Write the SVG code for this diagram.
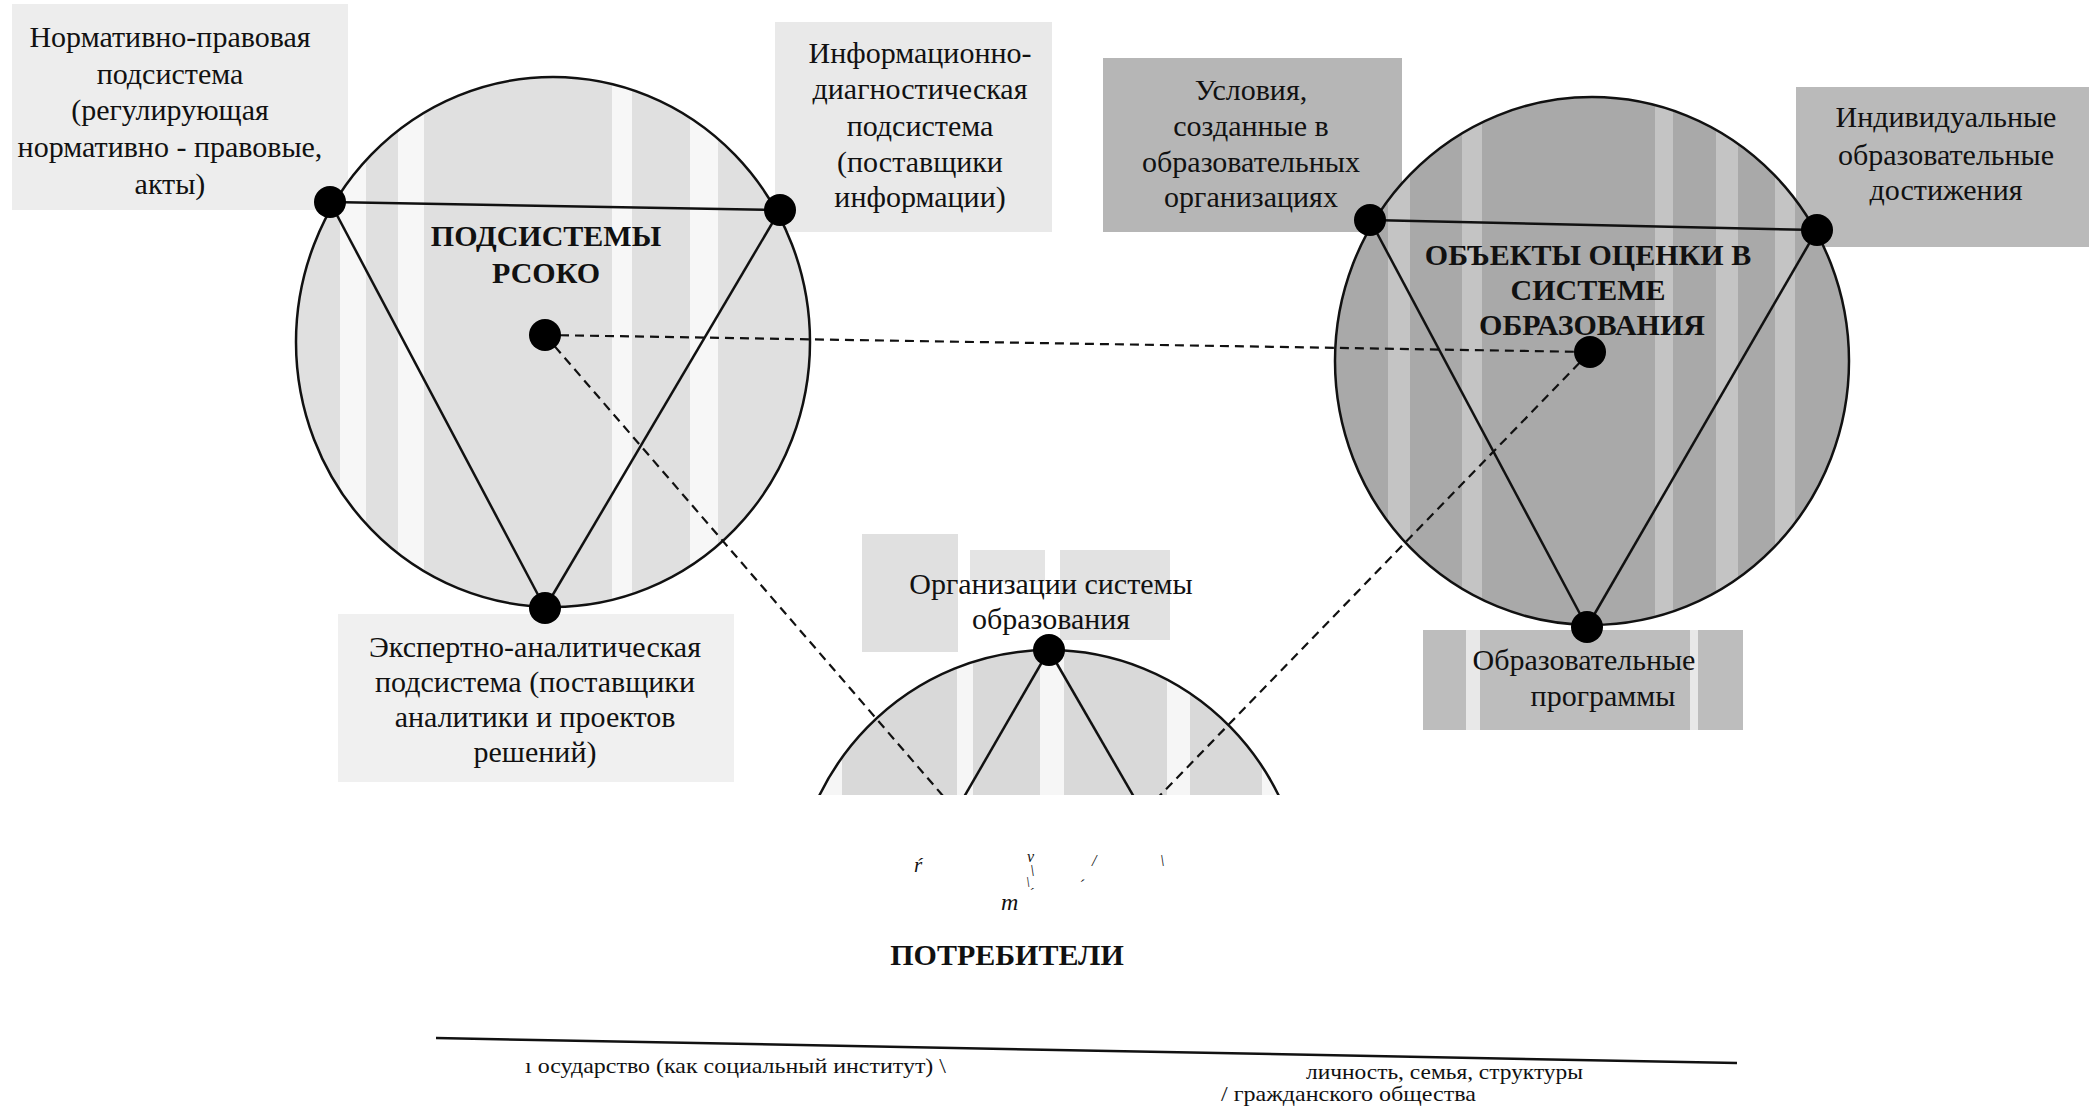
<svg xmlns="http://www.w3.org/2000/svg" width="2089" height="1114" viewBox="0 0 2089 1114">
<style>
.t{font-family:"Liberation Serif","Times New Roman",serif;font-size:30px;fill:#111;text-anchor:middle}
.b{font-family:"Liberation Serif","Times New Roman",serif;font-weight:bold;font-size:30px;fill:#111;text-anchor:middle}
.s{font-family:"Liberation Serif","Times New Roman",serif;font-size:21px;fill:#111}
.ring{stroke:#111;stroke-width:2.5}
.edge{stroke:#111;stroke-width:2.5;fill:none}
.dash{stroke:#111;stroke-width:2.2;stroke-dasharray:9 6;fill:none}
.dot{fill:#000}
</style>
<defs>
<clipPath id="cutBottom"><rect x="0" y="0" width="2089" height="795"/></clipPath>
<clipPath id="cL"><ellipse cx="553" cy="342" rx="257" ry="265"/></clipPath>
<clipPath id="cR"><ellipse cx="1592" cy="361" rx="257" ry="264"/></clipPath>
<clipPath id="cB"><ellipse cx="1049" cy="914" rx="257" ry="264"/></clipPath>
</defs>
<rect width="2089" height="1114" fill="#fff"/>

<!-- label backgrounds -->
<g id="backgrounds">
<rect x="12" y="4" width="336" height="206" fill="#ededed"/>
<rect x="775" y="22" width="277" height="210" fill="#e9e9e9"/>
<rect x="1103" y="58" width="299" height="174" fill="#b6b6b6"/>
<rect x="1796" y="87" width="293" height="160" fill="#bababa"/>
<rect x="338" y="614" width="396" height="168" fill="#f0f0f0"/>
<rect x="862" y="534" width="96" height="118" fill="#e0e0e0"/>
<rect x="970" y="550" width="75" height="32" fill="#e4e4e4"/>
<rect x="1060" y="550" width="110" height="90" fill="#e2e2e2"/>
<rect x="1423" y="630" width="320" height="100" fill="#bdbdbd"/>
<rect x="1466" y="630" width="14" height="100" fill="#e8e8e8"/>
<rect x="1690" y="630" width="8" height="100" fill="#e8e8e8"/>
</g>

<!-- consumers circle (cut off) -->
<g id="consumers-circle" clip-path="url(#cutBottom)">
<ellipse cx="1049" cy="914" rx="257" ry="264" fill="#d9d9d9"/>
<g clip-path="url(#cB)" fill="#f6f6f6">
<rect x="792" y="600" width="50" height="200"/>
<rect x="957" y="600" width="16" height="200"/>
<rect x="1040" y="600" width="24" height="200"/>
<rect x="1167" y="600" width="23" height="200"/>
<rect x="1262" y="600" width="40" height="200"/>
</g>
<ellipse cx="1049" cy="914" rx="257" ry="264" fill="none" class="ring"/>
<line x1="1049" y1="650" x2="820" y2="1046" class="edge"/>
<line x1="1049" y1="650" x2="1278" y2="1046" class="edge"/>
<circle cx="1049" cy="650" r="16" class="dot"/>
</g>

<!-- subsystems circle -->
<g id="subsystems-circle">
<ellipse cx="553" cy="342" rx="257" ry="265" fill="#e0e0e0"/>
<g clip-path="url(#cL)" fill="#f7f7f7">
<rect x="340" y="70" width="26" height="560"/>
<rect x="398" y="70" width="26" height="560"/>
<rect x="612" y="70" width="20" height="560"/>
<rect x="690" y="70" width="28" height="560"/>
</g>
<ellipse cx="553" cy="342" rx="257" ry="265" fill="none" class="ring"/>
<line x1="330" y1="202" x2="780" y2="210" class="edge"/>
<line x1="330" y1="202" x2="545" y2="608" class="edge"/>
<line x1="780" y1="210" x2="545" y2="608" class="edge"/>
<text class="b" x="546" y="246">ПОДСИСТЕМЫ</text>
<text class="b" x="546" y="283">РСОКО</text>
</g>

<!-- objects circle -->
<g id="objects-circle">
<ellipse cx="1592" cy="361" rx="257" ry="264" fill="#a9a9a9"/>
<g clip-path="url(#cR)" fill="#c4c4c4">
<rect x="1388" y="90" width="22" height="540"/>
<rect x="1462" y="90" width="20" height="540"/>
<rect x="1655" y="90" width="18" height="540"/>
<rect x="1716" y="90" width="22" height="540"/>
<rect x="1775" y="90" width="20" height="540"/>
</g>
<ellipse cx="1592" cy="361" rx="257" ry="264" fill="none" class="ring"/>
<line x1="1370" y1="220" x2="1817" y2="230" class="edge"/>
<line x1="1370" y1="220" x2="1587" y2="627" class="edge"/>
<line x1="1817" y1="230" x2="1587" y2="627" class="edge"/>
<text class="b" x="1588" y="265">ОБЪЕКТЫ ОЦЕНКИ В</text>
<text class="b" x="1588" y="300">СИСТЕМЕ</text>
<text class="b" x="1592" y="335">ОБРАЗОВАНИЯ</text>
</g>

<!-- connectors -->
<g id="connectors">
<line x1="545" y1="335" x2="1590" y2="352" class="dash"/>
<g clip-path="url(#cutBottom)">
<line x1="545" y1="335" x2="1045" y2="914" class="dash"/>
<line x1="1590" y1="352" x2="1045" y2="914" class="dash"/>
</g>
</g>

<!-- nodes -->
<g id="node-normative"><circle cx="330" cy="202" r="16" class="dot"/>
<text class="t"><tspan x="170" y="47">Нормативно-правовая</tspan><tspan x="170" y="84">подсистема</tspan><tspan x="170" y="120">(регулирующая</tspan><tspan x="170" y="157">нормативно - правовые,</tspan><tspan x="170" y="194">акты)</tspan></text></g>
<g id="node-info"><circle cx="780" cy="210" r="16" class="dot"/>
<text class="t"><tspan x="920" y="63">Информационно-</tspan><tspan x="920" y="99">диагностическая</tspan><tspan x="920" y="136">подсистема</tspan><tspan x="920" y="172">(поставщики</tspan><tspan x="920" y="207">информации)</tspan></text></g>
<g id="node-center-left"><circle cx="545" cy="335" r="16" class="dot"/></g>
<g id="node-expert"><circle cx="545" cy="608" r="16" class="dot"/>
<text class="t"><tspan x="535" y="657">Экспертно-аналитическая</tspan><tspan x="535" y="692">подсистема (поставщики</tspan><tspan x="535" y="727">аналитики и проектов</tspan><tspan x="535" y="762">решений)</tspan></text></g>
<g id="node-conditions"><circle cx="1370" cy="220" r="16" class="dot"/>
<text class="t"><tspan x="1251" y="100">Условия,</tspan><tspan x="1251" y="136">созданные в</tspan><tspan x="1251" y="172">образовательных</tspan><tspan x="1251" y="207">организациях</tspan></text></g>
<g id="node-achievements"><circle cx="1817" cy="230" r="16" class="dot"/>
<text class="t"><tspan x="1946" y="127">Индивидуальные</tspan><tspan x="1946" y="165">образовательные</tspan><tspan x="1946" y="200">достижения</tspan></text></g>
<g id="node-center-right"><circle cx="1590" cy="352" r="16" class="dot"/></g>
<g id="node-programs"><circle cx="1587" cy="627" r="16" class="dot"/>
<text class="t"><tspan x="1584" y="670">Образовательные</tspan><tspan x="1603" y="706">программы</tspan></text></g>
<g id="node-organizations">
<text class="t"><tspan x="1051" y="594">Организации системы</tspan><tspan x="1051" y="629">образования</tspan></text></g>

<!-- scan fragments -->
<g id="fragments" class="s" font-style="italic">
<text x="914" y="872">ŕ</text>
<text x="1027" y="862" font-size="16">v</text>
<text x="1030" y="876" font-size="16">\</text>
<text x="1026" y="887" font-size="14">\ˏ</text>
<text x="1080" y="878" font-size="16">ˏ</text>
<text x="1092" y="866" font-size="16">/</text>
<text x="1160" y="866" font-size="16">\</text>
<text x="1001" y="910" font-size="24">m</text>
</g>

<g id="consumers">
<text class="b" x="1007" y="965" font-size="28">ПОТРЕБИТЕЛИ</text>
<line x1="436" y1="1038" x2="1737" y2="1063" stroke="#111" stroke-width="2.5"/>
<text class="s" x="525" y="1073" textLength="421" lengthAdjust="spacingAndGlyphs">ı осударство (как социальный институт) \</text>
<text class="s" x="1306" y="1079" textLength="277" lengthAdjust="spacingAndGlyphs">личность, семья, структуры</text>
<text class="s" x="1221" y="1101" textLength="255" lengthAdjust="spacingAndGlyphs">/ гражданского общества</text>
</g>
</svg>
